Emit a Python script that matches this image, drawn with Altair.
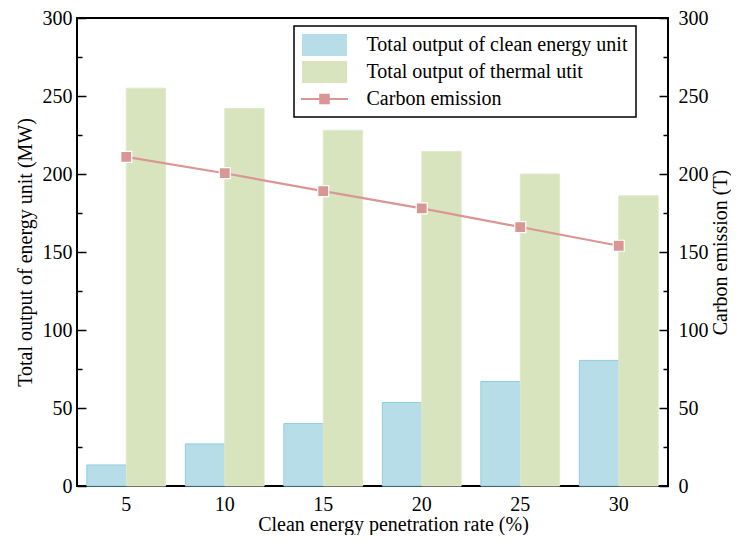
import altair as alt
import pandas as pd

rates = ["5", "10", "15", "20", "25", "30"]
clean_output = [13.5, 27, 40, 53.5, 67, 80.5]
thermal_output = [255, 242, 228, 214.5, 200, 186]
carbon_emission = [211, 200.5, 189, 178, 166, 154]

series_names = [
    "Total output of clean energy unit",
    "Total output of thermal utit",
    "Carbon emission",
]
series_colors = ["#b7dee8", "#d7e4bd", "#d99694"]
bar_edges = ["#92cddc", "#e0e9cc"]
tick_values = list(range(0, 301, 25))
label_values = list(range(0, 301, 50))

bars_df = pd.DataFrame({
    "rate": rates * 2,
    "series": [series_names[0]] * len(rates) + [series_names[1]] * len(rates),
    "value": clean_output + thermal_output,
})
line_df = pd.DataFrame({"rate": rates, "carbon": carbon_emission})
legend_df = pd.DataFrame({"series": series_names})

FONT = "Liberation Serif"
W, H = 591, 468

RECT_PATH = "M-2.045,-1L2.045,-1L2.045,1L-2.045,1Z"
LINE_PATH = ("M-2.136,-0.1L2.136,-0.1L2.136,0.1L-2.136,0.1Z "
             "M-0.48,-0.48L0.48,-0.48L0.48,0.48L-0.48,0.48Z")
symbol_paths = [RECT_PATH, RECT_PATH, LINE_PATH]

x_scale = alt.Scale(domain=rates, paddingInner=0.2, paddingOuter=0.1)
x_axis = alt.Axis(title="Clean energy penetration rate (%)", labelAngle=0,
                  ticks=False, domain=False, grid=False, labelPadding=8,
                  titlePadding=0, titleX=316)
y_scale = alt.Scale(domain=[0, 300], nice=False)
tick_size = {"condition": {"test": "datum.value % 50 === 0", "value": 9}, "value": 5}
color_scale = alt.Scale(domain=series_names, range=series_colors)

legend = alt.Legend(
    title=None, orient="none", legendX=217, legendY=8,
    padding=8, strokeColor="black", fillColor="white",
    labelFont=FONT, labelFontSize=20, labelColor="black", labelLimit=400,
    symbolSize=484, symbolOffset=11.5, labelOffset=31,
    rowPadding=5, symbolStrokeWidth=0, symbolOpacity=1,
)

X = alt.X("rate:N", scale=x_scale, axis=x_axis)

bars = alt.Chart(bars_df).mark_bar(strokeWidth=1).encode(
    x=X,
    xOffset=alt.XOffset("series:N", scale=alt.Scale(domain=series_names[:2], paddingInner=0, paddingOuter=0)),
    y=alt.Y("value:Q", scale=y_scale,
            axis=alt.Axis(orient="left", values=label_values, ticks=False, domain=False,
                          grid=False, labelPadding=5,
                          title="Total output of energy unit (MW)", titlePadding=7)),
    color=alt.Color("series:N", scale=color_scale, legend=legend),
    stroke=alt.Stroke("series:N", scale=alt.Scale(domain=series_names[:2], range=bar_edges), legend=None),
)

line = alt.Chart(line_df).mark_line(
    color=series_colors[2], strokeWidth=2.2,
    point=alt.OverlayMarkDef(shape="square", size=121, filled=True, fill=series_colors[2],
                             stroke="white", strokeWidth=1.2, opacity=1),
).encode(
    x=X,
    y=alt.Y("carbon:Q", scale=y_scale,
            axis=alt.Axis(orient="right", values=label_values, ticks=False, domain=False,
                          grid=False, labelPadding=10, title="Carbon emission (T)",
                          titleAngle=270, titleBaseline="top", titlePadding=2)),
)

legend_layer = alt.Chart(legend_df).mark_point(size=0, filled=True).encode(
    color=alt.Color("series:N", scale=color_scale, legend=legend),
    shape=alt.Shape("series:N", scale=alt.Scale(domain=series_names, range=symbol_paths), legend=legend),
)

ticks_left = alt.Chart(line_df).mark_point(opacity=0).encode(
    x=X,
    y=alt.Y("carbon:Q", scale=y_scale,
            axis=alt.Axis(orient="right", offset=-W, values=tick_values, labels=False,
                          domain=False, grid=False, title=None, ticks=True,
                          tickSize=tick_size, tickWidth=1.5, tickColor="black")),
)

ticks_right = alt.Chart(line_df).mark_point(opacity=0).encode(
    x=X,
    y=alt.Y("carbon:Q", scale=y_scale,
            axis=alt.Axis(orient="left", offset=-W, values=tick_values, labels=False,
                          domain=False, grid=False, title=None, ticks=True,
                          tickSize=tick_size, tickWidth=1.5, tickColor="black")),
)

chart = alt.layer(bars, line, ticks_left, ticks_right, legend_layer).resolve_scale(
    y="independent"
).properties(
    width=W, height=H,
    padding={"left": 69, "top": 10, "right": 63, "bottom": 49},
    autosize=alt.AutoSizeParams(type="none"),
).configure_view(
    stroke="black", strokeWidth=2
).configure_axis(
    labelFont=FONT, titleFont=FONT, labelFontSize=20, titleFontSize=20,
    labelColor="black", titleColor="black", titleFontWeight="normal"
).configure_legend(
    strokeWidth=1.5
)

chart.save("out.html", embed_options={"renderer": "svg", "actions": False})
